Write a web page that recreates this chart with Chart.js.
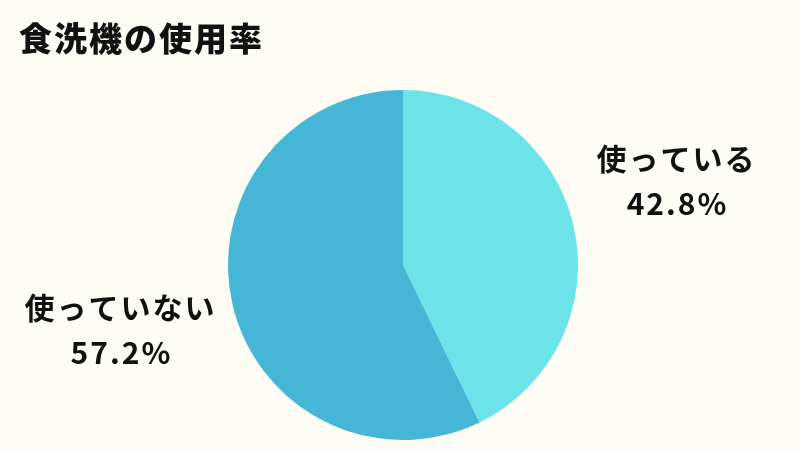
<!DOCTYPE html>
<html lang="ja">
<head>
<meta charset="utf-8">
<script src="https://cdn.jsdelivr.net/npm/chart.js@4"></script>
<style>
  html, body { margin: 0; padding: 0; background: #fdfdf5; }
  #wrap { width: 800px; height: 450px; }
</style>
</head>
<body>
<div id="wrap"><canvas id="chart" width="800" height="450"></canvas></div>
<script>
// データ
const TITLE = '食洗機の使用率';
const LABELS = ['使っている', '使っていない'];
const VALUES = [42.8, 57.2];
const COLORS = ['#6be3e8', '#45b6d6'];

const FONT = '"Noto Sans CJK JP", "Noto Sans", sans-serif';
// ラベルの微調整 (px)
const NUDGE = [[-7, -20], [-2, 0]];

// タイトルとラベルを描く
const labelPlugin = {
  id: 'labelPlugin',
  afterDraw(chart) {
    const ctx = chart.ctx;
    ctx.save();
    ctx.fillStyle = '#111';
    ctx.letterSpacing = '2px';
    ctx.font = `900 33px ${FONT}`;
    ctx.textAlign = 'left';
    ctx.textBaseline = 'middle';
    ctx.fillText(TITLE, 19, 38);

    const meta = chart.getDatasetMeta(0);
    ctx.letterSpacing = '2px';
    ctx.font = `bold 30px ${FONT}`;
    ctx.textAlign = 'center';
    meta.data.forEach((arc, i) => {
      const mid = (arc.startAngle + arc.endAngle) / 2;
      const d = arc.outerRadius * 1.645;
      const x = arc.x + Math.cos(mid) * d + NUDGE[i][0];
      const y = arc.y + Math.sin(mid) * d + NUDGE[i][1];
      ctx.fillText(LABELS[i], x, y - 22);
      ctx.fillText(VALUES[i].toFixed(1) + '%', x + 1, y + 23);
    });
    ctx.restore();
  }
};

new Chart(document.getElementById('chart'), {
  type: 'pie',
  data: {
    labels: LABELS,
    datasets: [{ data: VALUES, backgroundColor: COLORS, borderWidth: 0 }]
  },
  options: {
    responsive: false,
    animation: false,
    layout: { padding: { top: 90, bottom: 10, left: 228, right: 222 } },
    plugins: {
      legend: { display: false },
      tooltip: { enabled: false }
    }
  },
  plugins: [labelPlugin]
});
</script>
</body>
</html>
